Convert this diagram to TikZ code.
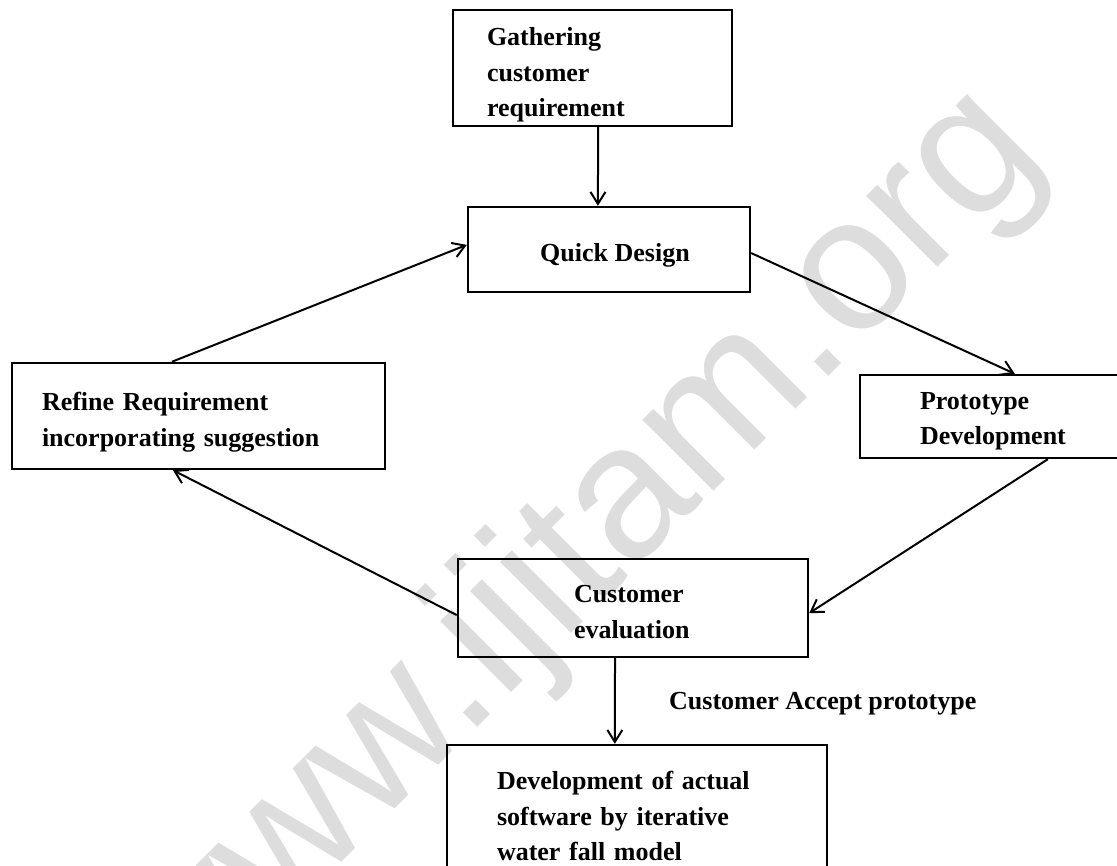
\documentclass[tikz,border=0pt]{standalone}
\usepackage{fontspec}
\setmainfont{Liberation Serif}
\newfontfamily\wmfont{Liberation Sans}
\usetikzlibrary{arrows.meta,calc}
\hyphenpenalty=10000
\exhyphenpenalty=10000
\definecolor{wmgray}{RGB}{221,221,221}
\tikzset{
  box/.style={draw, line width=2.4pt, rectangle, inner sep=0pt,
    font=\fontsize{26}{35.5}\selectfont\bfseries},
  txt/.style={inner sep=0pt, align=left, anchor=west, text width=320pt,
    font=\fontsize{26}{35.5}\selectfont\bfseries},
  lbl/.style={inner sep=0pt, font=\fontsize{26}{35.5}\selectfont\bfseries},
  arr/.style={line width=2pt, -{Straight Barb[length=12pt,width=15pt]}},
  wmark/.style={inner sep=0pt, text=wmgray, font=\wmfont\fontsize{190}{190}\selectfont}
}
\begin{document}
\begin{tikzpicture}[x=1pt,y=-1pt]
\useasboundingbox (0,0) rectangle (1117,866);
\fill[white] (0,0) rectangle (1117,866);
% watermark
\node[wmark, rotate=45] (wm) at (580,555) {www.ijitam.org};
% boxes
\node[box, minimum width=279pt, minimum height=116pt] (gather) at (592.5,68) {};
\node[txt] (gathertxt) at ($(gather.west)+(35,7)$) {Gathering\\customer\\requirement};
\node[box, minimum width=282pt, minimum height=85pt, align=center, text height=30pt] (quick) at (609,249.5) {\hspace*{12pt}Quick Design};
\node[box, minimum width=373pt, minimum height=106pt] (refine) at (198.5,416) {};
\node[txt] (refinetxt) at ($(refine.west)+(31,6)$) {Refine Requirement\\incorporating suggestion};
\node[box, minimum width=270pt, minimum height=83pt] (proto) at (995,416.5) {};
\node[txt] (prototxt) at ($(proto.west)+(61,5)$) {Prototype\\Development};
\node[box, minimum width=350pt, minimum height=98pt] (cust) at (633,608) {};
\node[txt] (custtxt) at ($(cust.west)+(117,4)$) {Customer\\evaluation};
\node[box, minimum width=380pt, minimum height=142pt] (dev) at (637,816) {};
\node[txt] (devtxt) at ($(dev.west)+(51,0)$) {Development of actual\\software by iterative\\water fall model};
\node[lbl, anchor=base west] (acc) at (669,709) {Customer Accept prototype};
% connectors
\draw[arr] ($(gather.south west)!0.520!(gather.south east)$) -- ($(quick.north west)!0.461!(quick.north east)$);
\draw[arr] ($(refine.north west)!0.429!(refine.north east)$) -- ($(quick.north west)!0.447!(quick.south west)$);
\draw[arr] ($(quick.north east)!0.541!(quick.south east)$) -- ($(proto.north west)+(156,0)$);
\draw[arr] ($(proto.south west)+(189,0)$) -- ($(cust.north east)!0.551!(cust.south east)$);
\draw[arr] ($(cust.north west)!0.571!(cust.south west)$) -- ($(refine.south west)!0.432!(refine.south east)$);
\draw[arr] ($(cust.south west)!0.449!(cust.south east)$) -- ($(dev.north west)!0.442!(dev.north east)$);
\end{tikzpicture}
\end{document}
